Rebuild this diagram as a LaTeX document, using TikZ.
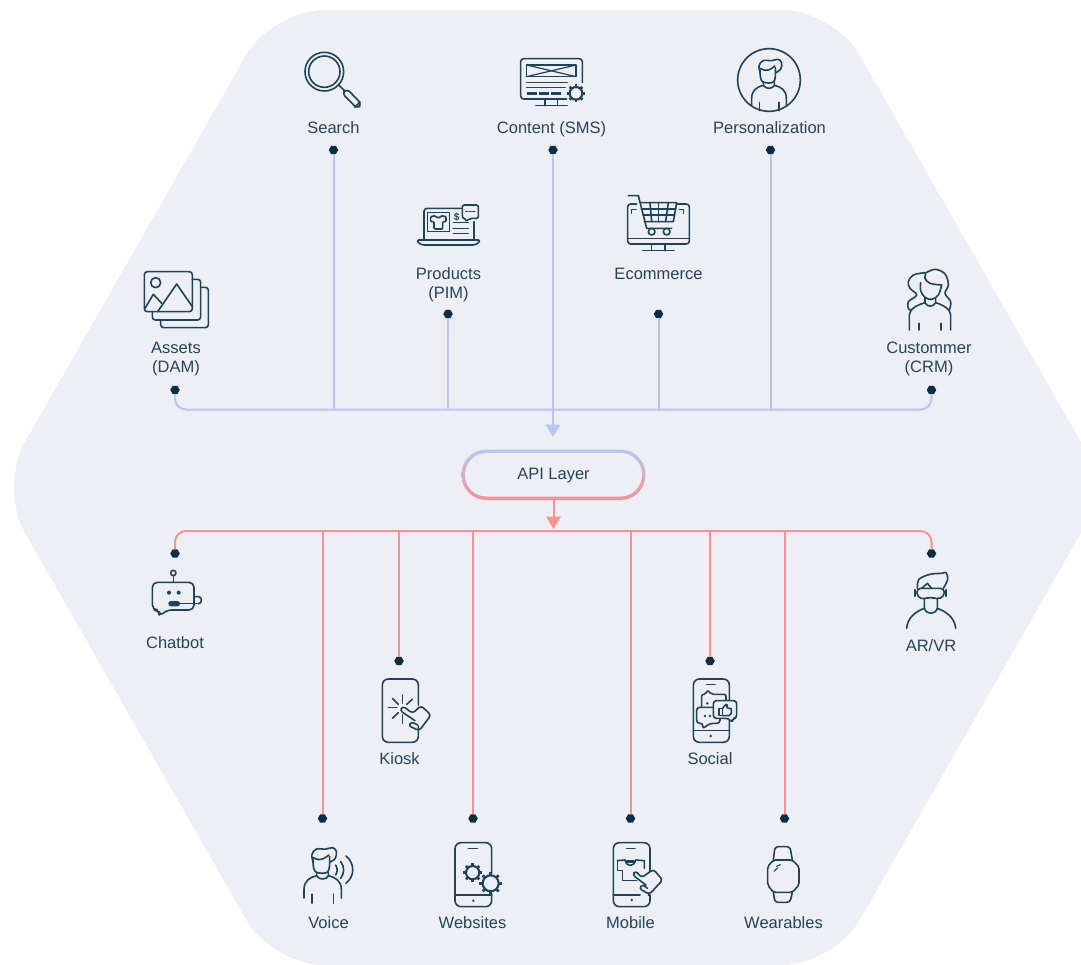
\documentclass[tikz,border=0pt]{standalone}
\usepackage{fontspec}
\setmainfont{Liberation Sans}
\usetikzlibrary{arrows.meta,shapes.geometric,calc}
\definecolor{bgc}{HTML}{EEEEF5}
\definecolor{bluec}{HTML}{B7C8F2}
\definecolor{redc}{HTML}{F79292}
\definecolor{iconc}{HTML}{1D4458}
\definecolor{dotc}{HTML}{0C2E42}
\definecolor{textc}{HTML}{234659}
\newcommand{\gearicon}[3]{%
  \draw[line width=2.1pt] (#1,#2) circle [radius=#3];
  \foreach \ga in {0,45,...,315}{
    \draw[line width=2.6pt,line cap=butt] (#1,#2) ++(\ga:#3) -- ++(\ga:0.42*#3);
  }}
\newcommand{\personicon}{%
  % hair
  \draw plot[smooth,tension=0.6] coordinates {(-26,-20) (-30,-42) (-18,-58) (8,-58) (27,-62) (38,-52) (35,-32) (20,-22)};
  \draw plot[smooth,tension=0.6] coordinates {(-28,-35) (-10,-29) (5,-33) (17,-42)};
  % face
  \draw (-27,-30) .. controls (-27,-10) and (-25,3) .. (-18,6) .. controls (-8,10) and (8,10) .. (13,6) .. controls (20,0) and (20,-15) .. (19,-38);
  % neck
  \draw (-17,6) -- (-17,16) .. controls (-10,28) and (10,28) .. (16,16) -- (16,6);
  % shoulders
  \draw (-52,78) -- (-52,55) .. controls (-52,30) and (-35,20) .. (-17,16);
  \draw (16,16) .. controls (35,20) and (52,30) .. (52,55) -- (52,78);
  \draw (-29,67) -- (-29,92);
  \draw (30,67) -- (30,92);
}
\tikzset{
  zm/.style 2 args={shift={(#1,#2)},scale=0.33333,color=iconc,line width=1.6pt,line cap=round,line join=round},
  lbl/.style={text=textc,font=\fontsize{16.5}{19}\selectfont,align=center,inner sep=0pt},
  dotnode/.style={regular polygon,regular polygon sides=6,minimum size=9.5pt,inner sep=0pt,fill=dotc},
  blueline/.style={draw=bluec,line width=2pt},
  redline/.style={draw=redc,line width=2pt},
}
\begin{document}
\begin{tikzpicture}[x=1pt,y=-1pt]
\useasboundingbox (0,0) rectangle (1081,965);
\fill[white] (0,0) rectangle (1081,965);
\begin{scope}
\clip (0,0) rectangle (1081,965);
\fill[bgc,rounded corners=52pt] (553,10) -- (834,10) -- (1107,487.5) -- (834,965) -- (272,965) -- (-1,487.5) -- (272,10) -- cycle;
\end{scope}

% API layer
\shade[top color=bluec,bottom color=redc,rounded corners=25pt] (461.5,449.5) rectangle (645.5,500);
\fill[bgc,rounded corners=21.5pt] (465,453) rectangle (642,496.5);
\node[lbl,minimum width=184pt,minimum height=48pt] (api) at (553.5,476) {\strut API Layer};

% top dots
\node[dotnode] (dSearch) at (333.5,150) {};
\node[dotnode] (dContent) at (553,150) {};
\node[dotnode] (dPers) at (770.5,150) {};
\node[dotnode] (dProd) at (448,314) {};
\node[dotnode] (dEcom) at (658.5,314) {};
\node[dotnode] (dAssets) at (175,390) {};
\node[dotnode] (dCust) at (931.5,390) {};
\coordinate (busBR) at (931.5,409.5);
\coordinate (tipB) at (553,437);
\draw[blueline,rounded corners=11pt] (dAssets) |- (busBR) -- (dCust);
\foreach \n in {dSearch,dPers,dProd,dEcom}{\draw[blueline] (\n) -- (\n |- busBR);}
\draw[blueline,-{Triangle[length=12.5pt,width=14.5pt]}] (dContent) -- (tipB);

% bottom dots
\node[dotnode] (dChat) at (175,553.5) {};
\node[dotnode] (dVoice) at (322.5,818.5) {};
\node[dotnode] (dKiosk) at (399,661) {};
\node[dotnode] (dWeb) at (473,818.5) {};
\node[dotnode] (dMob) at (630.5,818.5) {};
\node[dotnode] (dSoc) at (710,661) {};
\node[dotnode] (dWear) at (784.5,818.5) {};
\node[dotnode] (dAR) at (931.5,553.5) {};
\coordinate (busRR) at (931.5,531);
\coordinate (tipR) at (553.5,529);
\draw[redline,rounded corners=11pt] (dChat) |- (busRR) -- (dAR);
\foreach \n in {dVoice,dKiosk,dWeb,dMob,dSoc,dWear}{\draw[redline] (\n) -- (\n |- busRR);}
\draw[redline,-{Triangle[length=12.5pt,width=14.5pt]}] (api.south) -- (tipR);

% labels
\node[lbl] (lSearch) at (333.5,130) {\strut Search};
\node[lbl] (lContent) at (551.5,130) {\strut Content (SMS)};
\node[lbl] (lPers) at (769.5,130) {\strut Personalization};
\node[lbl] (lProd) at (448.5,285.5) {\strut Products\\\strut (PIM)};
\node[lbl] (lEcom) at (658.5,276) {\strut Ecommerce};
\node[lbl] (lAssets) at (176,359.5) {\strut Assets\\\strut (DAM)};
\node[lbl] (lCust) at (929,359.5) {\strut Custommer\\\strut (CRM)};
\node[lbl] (lChat) at (175,645) {\strut Chatbot};
\node[lbl] (lAR) at (931,648) {\strut AR/VR};
\node[lbl] (lKiosk) at (399.5,761) {\strut Kiosk};
\node[lbl] (lSoc) at (710,761) {\strut Social};
\node[lbl] (lVoice) at (328.5,925) {\strut Voice};
\node[lbl] (lWeb) at (472.5,925) {\strut Websites};
\node[lbl] (lMob) at (630.5,925) {\strut Mobile};
\node[lbl] (lWear) at (783.5,925) {\strut Wearables};

% Search icon
\begin{scope}[zm={280}{30}]
\draw (133,125) circle [radius=58];
\draw (133,125) circle [radius=47];
\draw (176,165) -- (196,185);
\draw[rounded corners=4pt] (200,176) -- (245,222) -- (232,236) -- (186,190) -- cycle;
\draw (224,232) -- (240,216);
\end{scope}

% Content icon
\begin{scope}[zm={280}{30}]
\draw[rounded corners=3pt] (907,158) -- (907,86) -- (722,86) -- (722,207) -- (860,207);
\draw (740,105) rectangle (888,140);
\draw[line width=1.2pt] (740,105) -- (888,140);
\draw[line width=1.2pt] (740,140) -- (888,105);
\draw (740,157) -- (862,157);
\draw (740,172) -- (855,172);
\draw[line width=2.4pt,line cap=butt] (740,190) -- (770,190);
\draw[line width=2.4pt,line cap=butt] (777,190) -- (807,190);
\draw[line width=2.4pt,line cap=butt] (814,190) -- (842,190);
\draw (795,207) -- (795,227);
\draw (832,207) -- (832,227);
\draw (768,227) -- (862,227);
\gearicon{888}{190}{19}
\end{scope}

% Personalization icon
\begin{scope}[zm={700}{40}]
\draw (207,120) circle [radius=94];
\begin{scope}[shift={(207,120)},scale=1]
\personicon
\end{scope}
\end{scope}

% Products icon
\begin{scope}[zm={400}{180}]
\draw[rounded corners=3pt] (222,125) -- (222,180);
\draw[rounded corners=3pt] (72,180) -- (72,85) -- (185,85);
\draw[rounded corners=3pt] (48,180) -- (243,180) -- (228,195) -- (63,195) -- cycle;
\draw (82,97) rectangle (148,155);
\draw[rounded corners=1pt] (92,110) -- (106,107) .. controls (110,115) and (120,115) .. (124,107) -- (138,110) -- (138,125) -- (128,125) -- (128,147) -- (102,147) -- (102,125) -- (92,125) -- cycle;
\node[text=iconc,font=\fontsize{10}{10}\bfseries\selectfont,inner sep=0pt] (prodDollar) at (170,110) {\$};
\draw (160,128) -- (205,128);
\draw (160,145) -- (205,145);
\draw (160,160) -- (205,160);
\draw[rounded corners=2pt,fill=bgc] (187,75) -- (235,75) -- (235,115) -- (210,115) -- (197,125) -- (197,115) -- (187,115) -- cycle;
\draw[line width=1pt] (197,95) -- (204,95) (208,95) -- (214,95) (218,95) -- (225,95);
\end{scope}

% Ecommerce icon
\begin{scope}[zm={400}{180}]
\draw[rounded corners=3pt] (710,72) -- (683,72) -- (683,192) -- (868,192) -- (868,72) -- (830,72);
\draw (683,175) -- (868,175);
\draw (755,192) -- (755,212);
\draw (795,192) -- (795,212);
\draw (728,212) -- (822,212);
\draw (695,100) -- (695,88) -- (708,88);
\draw (838,88) -- (850,88) -- (850,100);
\draw (685,47) -- (715,47) -- (740,145) -- (815,145);
\draw (720,68) -- (830,68) -- (820,125) -- (733,125);
\draw (724,87) -- (827,87);
\draw (729,105) -- (824,105);
\draw (750,68) -- (755,125);
\draw (775,68) -- (775,125);
\draw (805,68) -- (797,125);
\draw (755,155) circle [radius=10];
\draw (800,155) circle [radius=10];
\end{scope}

% Assets icon
\begin{scope}[zm={120}{260}]
\draw[rounded corners=3pt] (73,35) rectangle (217,155);
\draw[rounded corners=3pt] (217,58) -- (242,58) -- (242,180) -- (97,180) -- (97,155);
\draw[rounded corners=3pt] (242,82) -- (265,82) -- (265,203) -- (122,203) -- (122,180);
\draw (107,68) circle [radius=15];
\draw (75,145) -- (100,103) -- (125,130);
\draw (113,155) -- (170,72) -- (217,140);
\end{scope}

% Customer icon
\begin{scope}[zm={880}{260}]
\draw plot[smooth,tension=0.6] coordinates {(135,38) (100,45) (85,65) (90,85) (110,105) (85,125) (85,145) (95,152)};
\draw plot[smooth,tension=0.6] coordinates {(135,40) (165,28) (195,42) (205,75) (195,100) (212,125) (208,150)};
\draw plot[smooth,tension=0.6] coordinates {(137,42) (135,55) (150,70) (185,75)};
\draw plot[smooth,tension=0.6] coordinates {(122,68) (122,92) (135,112) (155,118) (175,105) (185,75)};
\draw (135,113) -- (135,128) .. controls (142,142) and (160,142) .. (167,128) -- (167,115);
\draw (88,210) -- (88,165) .. controls (88,148) and (110,135) .. (135,128);
\draw (167,128) .. controls (190,135) and (212,148) .. (212,165) -- (212,210);
\draw (117,190) -- (117,210);
\draw (183,190) -- (183,210);
\end{scope}

% Chatbot icon
\begin{scope}[zm={130}{540}]
\draw[rounded corners=5pt] (67,127) -- (192,127) -- (192,210) -- (110,210) -- (88,230) -- (88,210) -- (67,210) -- cycle;
\draw (130,127) -- (130,107);
\draw (130,99) circle [radius=8];
\fill (117,158) circle [radius=6];
\fill (146,158) circle [radius=6];
\fill[rounded corners=2.6pt] (115,183) rectangle (150,199);
\draw (150,191) -- (205,191);
\draw[rounded corners=3pt] (192,170) -- (214,170) -- (214,191) -- (205,191);
\end{scope}

% AR/VR icon
\begin{scope}[zm={880}{540}]
\draw plot[smooth,tension=0.6] coordinates {(112,145) (117,118) (150,103) (185,100) (198,98) (203,118) (190,145)};
\draw (125,145) -- (142,130) -- (155,145);
\draw[rounded corners=4pt] (110,145) -- (193,145) -- (193,170) -- (170,178) -- (152,170) -- (133,178) -- (112,172) -- cycle;
\draw[line width=2.2pt] (105,150) -- (105,168);
\draw[line width=2.2pt] (198,150) -- (198,168);
\draw (133,178) -- (133,205) .. controls (140,225) and (165,225) .. (172,205) -- (172,178);
\draw (80,265) .. controls (82,235) and (105,215) .. (133,205);
\draw (172,205) .. controls (200,215) and (225,235) .. (227,265);
\end{scope}

% Kiosk icon
\begin{scope}[zm={360}{660}]
\draw[rounded corners=6pt] (175,135) -- (175,57) -- (67,57) -- (67,247) -- (175,247) -- (175,198);
\draw (127,105) -- (127,130);
\draw (157,118) -- (140,133);
\draw (85,143) -- (110,143);
\draw (97,115) -- (115,133);
\draw (97,175) -- (115,158);
\draw (127,165) -- (127,190);
\draw[rounded corners=3pt] (165,182) -- (120,152) -- (128,138) -- (158,160) -- (183,137) -- (213,165) -- (178,212) -- (145,197) -- (155,185) -- (173,195);
\end{scope}

% Social icon
\begin{scope}[zm={670}{660}]
\draw[rounded corners=6pt] (178,122) -- (178,57) -- (70,57) -- (70,247) -- (178,247) -- (178,178);
\draw (110,73) -- (135,73);
\draw (70,212) -- (178,212);
\fill (122,228) circle [radius=4];
\draw[rounded corners=2pt] (95,140) -- (95,103) -- (108,103) -- (112,90) -- (125,103) -- (168,103) -- (168,122);
\draw[rounded corners=3pt,fill=bgc] (80,142) -- (150,142) -- (150,190) -- (120,190) -- (97,207) -- (100,190) -- (80,190) -- cycle;
\draw[rounded corners=3pt,fill=bgc] (130,122) -- (200,122) -- (200,175) -- (187,175) -- (187,188) -- (175,175) -- (130,175) -- cycle;
\fill (112,130) circle [radius=4];
\fill (105,168) circle [radius=4];
\fill (120,168) circle [radius=4];
\draw (147,145) rectangle (157,167);
\draw[rounded corners=2pt] (157,147) -- (167,132) -- (173,136) -- (170,145) -- (185,145) -- (183,167) -- (157,167);
\end{scope}

% Voice icon
\begin{scope}[zm={290}{830}]
\begin{scope}[shift={(98,120)},scale=1.08]
\personicon
\end{scope}
\draw (137,105) .. controls (143,115) and (143,125) .. (137,135);
\draw (152,95) .. controls (164,110) and (164,130) .. (152,145);
\draw (168,78) .. controls (195,100) and (195,138) .. (168,160);
\end{scope}

% Websites icon
\begin{scope}[zm={290}{830}]
\draw[rounded corners=6pt] (605,130) -- (605,38) -- (495,38) -- (495,230) -- (605,230) -- (605,190);
\draw (535,55) -- (562,55);
\draw (495,195) -- (605,195);
\fill (550,212) circle [radius=4];
\gearicon{548}{128}{20}
\gearicon{602}{160}{24}
\end{scope}

% Mobile icon
\begin{scope}[zm={590}{830}]
\draw[rounded corners=6pt] (180,125) -- (180,38) -- (70,38) -- (70,230) -- (180,230) -- (180,195);
\draw (110,55) -- (135,55);
\draw (70,195) -- (150,195);
\draw (175,195) -- (180,195);
\fill (125,210) circle [radius=4];
\draw (82,92) -- (105,90) .. controls (110,112) and (132,112) .. (137,90) -- (163,92) -- (163,115);
\draw (82,92) -- (82,122) -- (97,122) -- (97,152) -- (140,152);
\draw[line width=2.4pt] (110,95) -- (132,95);
\draw[rounded corners=3pt] (168,165) -- (128,135) -- (136,122) -- (155,143) -- (190,118) -- (218,150) -- (178,193) -- (147,175) -- (158,163) -- (172,175);
\end{scope}

% Wearables icon
\begin{scope}[zm={590}{830}]
\draw[rounded corners=2pt] (550,90) -- (607,90) -- (627,110) -- (627,165) -- (607,187) -- (550,187) -- (533,165) -- (533,110) -- cycle;
\draw[rounded corners=3pt] (550,90) -- (555,50) -- (600,50) -- (607,90);
\draw[rounded corners=3pt] (550,187) -- (555,217) -- (600,217) -- (607,187);
\draw[line width=1.1pt] (552,124) -- (563,113);
\draw[line width=1.1pt] (560,109) -- (571,104);
\end{scope}
\end{tikzpicture}
\end{document}
